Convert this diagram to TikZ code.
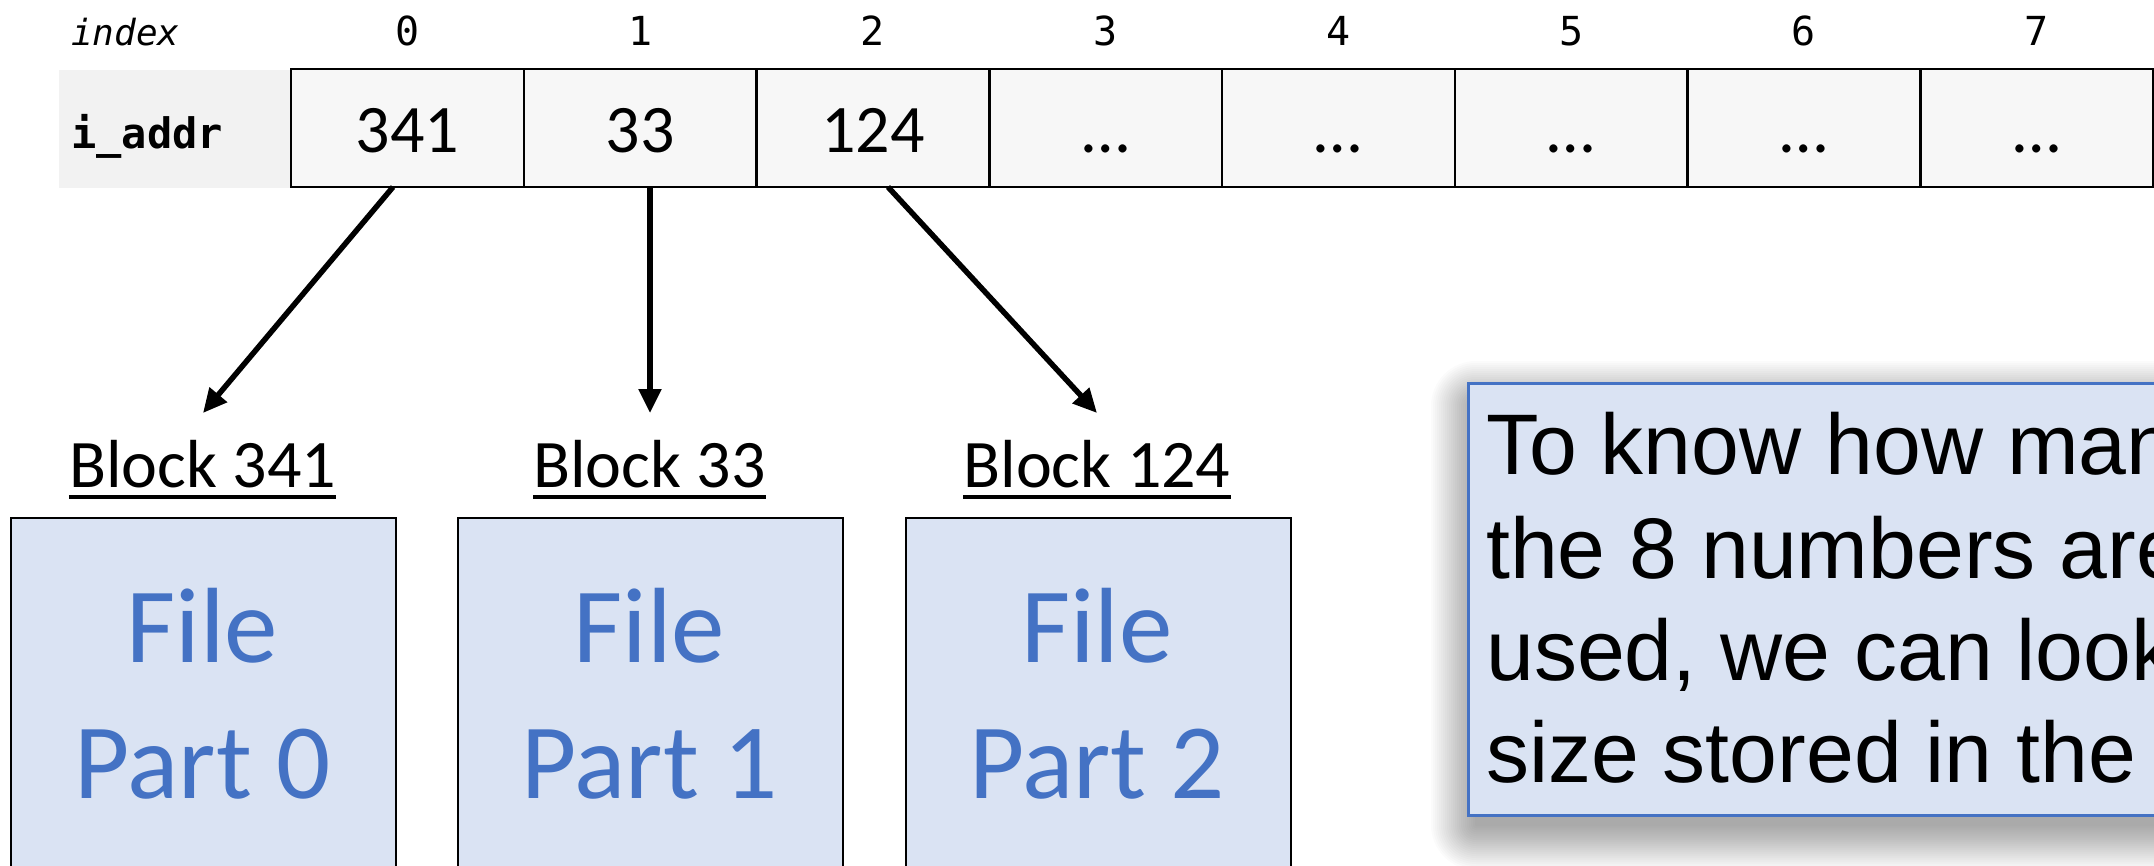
\documentclass[tikz,border=0pt]{standalone}
\usepackage{fontspec}
\setmainfont{Carlito}
\newfontfamily\arialf{Liberation Sans}
\newfontfamily\monof{DejaVu Sans Mono}
\usetikzlibrary{arrows.meta}
\definecolor{ablue}{HTML}{4472C4}
\definecolor{lblue}{HTML}{DAE3F3}
\definecolor{cellgray}{HTML}{F7F7F7}
\definecolor{labgray}{HTML}{F2F2F2}
\tikzset{
  cell/.style={draw=black, line width=2.5pt, fill=cellgray, minimum width=232.75pt, minimum height=118pt, inner sep=0pt, text height=48pt, text depth=0pt, font=\fontsize{68}{80}\selectfont},
  idx/.style={font=\monof\fontsize{40}{46}\selectfont, anchor=base, inner sep=0pt},
  blabel/.style={font=\fontsize{68}{80}\selectfont, anchor=base, inner sep=0pt},
  uline/.style={line width=4pt},
  pbox/.style={draw=black, line width=2pt, fill=lblue, anchor=north west, minimum width=385pt, minimum height=500pt, inner sep=0pt},
  ptext/.style={font=\fontsize{107}{130}\selectfont, text=ablue, anchor=base, inner sep=0pt},
  arr/.style={line width=5.5pt, -{Triangle[length=24pt,width=22pt]}},
  shadowlayer/.style={fill=black, opacity=0.016},
  notebox/.style={draw=ablue, line width=2.5pt, fill=lblue, anchor=north west, minimum width=760pt, minimum height=432pt, inner sep=0pt},
  notetext/.style={font=\arialf\fontsize{86}{103}\selectfont, anchor=base west, inner sep=0pt}
}
\begin{document}
\begin{tikzpicture}[x=1pt,y=-1pt]
\useasboundingbox (0,0) rectangle (2154,865);
\clip (0,0) rectangle (2154,865);
\fill[white] (0,0) rectangle (2154,865);

% row labels
\fill[labgray] (59,70) rectangle (291,188);
\node[font=\monof\itshape\fontsize{36}{40}\selectfont, anchor=base west, inner sep=0pt] (idxlab) at (71,45) {index};
\node[font=\monof\bfseries\fontsize{42}{48}\selectfont, anchor=base west, inner sep=0pt] (addrlab) at (71,148) {i\_addr};

% table
\foreach \i/\t in {0/341,1/33,2/124,3/…,4/…,5/…,6/…,7/…} {
  \node[cell] (c\i) at ({291+232.75*(\i+0.5)},128) {\t};
  \node[idx] (i\i) at ({291+232.75*(\i+0.5)},45) {\i};
}

% blocks
\node[pbox] (p0) at (10,517) {};
\node[pbox] (p1) at (457,517) {};
\node[pbox] (p2) at (905,517) {};

\node[blabel] (bl0) at (202.5,487) {Block 341};
\node[blabel] (bl1) at (649.5,487) {Block 33};
\node[blabel] (bl2) at (1097,487) {Block 124};
\foreach \b in {bl0,bl1,bl2} {
  \draw[uline] ([yshift=-9.5pt]\b.base west) -- ([yshift=-9.5pt]\b.base east);
}

\node[ptext] (f0) at (202.5,662) {File};
\node[ptext] (q0) at (202.5,798) {Part 0};
\node[ptext] (f1) at (649.5,662) {File};
\node[ptext] (q1) at (649.5,798) {Part 1};
\node[ptext] (f2) at (1097,662) {File};
\node[ptext] (q2) at (1097,798) {Part 2};

% arrows
\coordinate (a0s) at (393,187);
\coordinate (a0e) at (203,413);
\coordinate (a1s) at (650,187);
\coordinate (a1e) at (650,413);
\coordinate (a2s) at (888,187);
\coordinate (a2e) at (1097,413);
\draw[arr] (a0s) -- (a0e);
\draw[arr] (a1s) -- (a1e);
\draw[arr] (a2s) -- (a2e);

% soft shadow of the note
\foreach \e in {0,2,...,44} {
  \fill[shadowlayer, rounded corners={\e pt+1pt}] ({1475-\e},{405-\e}) rectangle (2220,{826+\e});
}
% note
\node[notebox] (note) at (1467,382) {};
\node[notetext] (t1) at (1486,474) {To know how many};
\node[notetext] (t2) at (1486,578) {the 8 numbers are};
\node[notetext] (t3) at (1486,680) {used, we can look};
\node[notetext] (t4) at (1486,782) {size stored in the};
\end{tikzpicture}
\end{document}
